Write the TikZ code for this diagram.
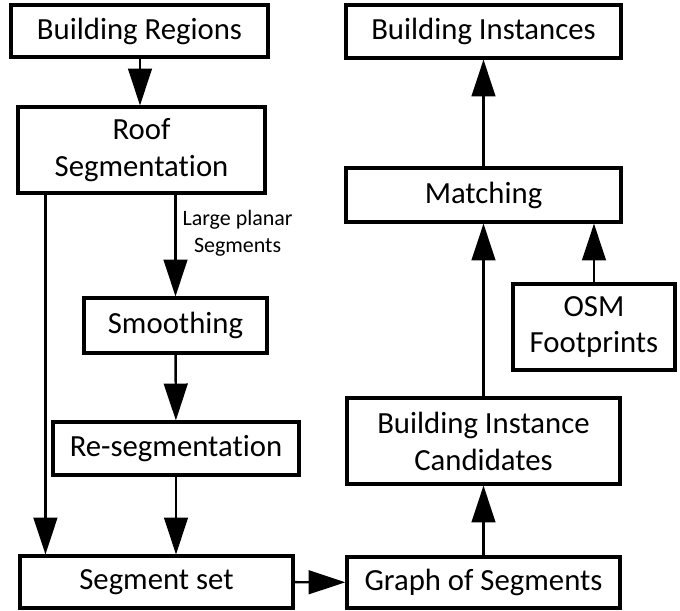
\documentclass[tikz,border=0pt]{standalone}
\usepackage{fontspec}
\setmainfont{Carlito}[Ligatures=NoCommon]
\usetikzlibrary{arrows.meta, positioning}
\tikzset{
  every picture/.style={font=\fontsize{17.5}{21}\selectfont},
  box/.style={draw, line width=1.8pt, align=center, inner sep=2pt, minimum width=#1},
  box/.default=5cm,
  arrow/.style={-{Triangle[length=21pt, width=13.5pt]}, line width=1.4pt},
  note/.style={font=\fontsize{12.5}{15}\selectfont, align=center},
}

\begin{document}
\begin{tikzpicture}[x=0.02cm, y=-0.02cm]
  \useasboundingbox (0,0) rectangle (680,610);
  % left column
  \node[box=5.14cm, minimum height=1.04cm] (regions) at (139.5,31)  {Building Regions};
  \node[box=4.94cm, minimum height=1.72cm] (roof)    at (141.5,150) {Roof\\Segmentation};
  \node[box=3.66cm, minimum height=1.10cm] (smooth)  at (175.5,325.5) {Smoothing};
  \node[box=4.92cm, minimum height=1.06cm] (reseg)   at (176,448.5) {Re-segmentation};
  \node[box=5.46cm, minimum height=1.04cm] (segset)  at (156.5,582) {Segment set};
  % right column
  \node[box=5.46cm, minimum height=1.02cm] (graph)   at (483.5,582.5) {Graph of Segments};
  \node[box=5.46cm, minimum height=1.72cm] (cand)    at (483.5,441) {Building Instance\\Candidates};
  \node[box=3.24cm, minimum height=1.72cm] (osm)     at (594,327) {OSM\\Footprints};
  \node[box=5.50cm, minimum height=1.08cm] (match)   at (483.5,195) {Matching};
  \node[box=5.50cm, minimum height=1.06cm] (inst)    at (483.5,31.5) {Building Instances};

  \draw[arrow] (regions.south -| 140,0) -- (roof.north -| 140,0);
  \draw[arrow] ([xshift=0.58cm]roof.south west) -- ([xshift=0.58cm]roof.south west |- segset.north);
  \draw[arrow] (roof.south -| smooth) -- (smooth.north)
    node[note, pos=0.38, right=0pt] (lps) {Large planar\\Segments};
  \draw[arrow] (smooth) -- (reseg);
  \draw[arrow] (reseg.south) -- (reseg.south |- segset.north);
  \draw[arrow] (segset) -- (graph);
  \draw[arrow] (graph) -- (cand);
  \draw[arrow] (cand) -- (match);
  \draw[arrow] (osm.north) -- (osm.north |- match.south);
  \draw[arrow] (match) -- (inst);
\end{tikzpicture}
\end{document}
